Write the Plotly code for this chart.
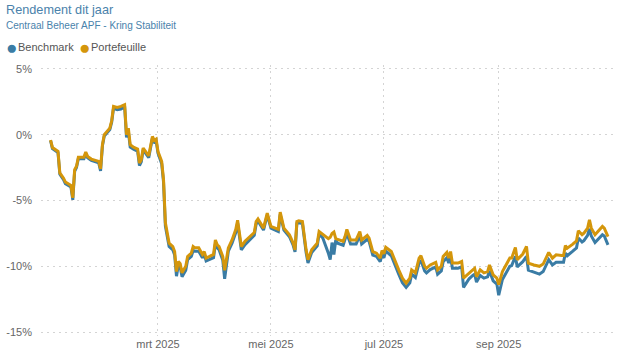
import plotly.graph_objects as go

# ---- data ----
dates = (
    ["2025-01-02", "2025-01-03", "2025-01-06", "2025-01-07", "2025-01-09", "2025-01-10", "2025-01-13",
     "2025-01-14", "2025-01-15", "2025-01-16", "2025-01-17", "2025-01-20", "2025-01-21", "2025-01-22",
     "2025-01-24", "2025-01-28", "2025-01-29", "2025-01-30", "2025-01-31"]
    + ["2025-02-03", "2025-02-04", "2025-02-05", "2025-02-07", "2025-02-09", "2025-02-11", "2025-02-12",
       "2025-02-13", "2025-02-14", "2025-02-16", "2025-02-18", "2025-02-19", "2025-02-20", "2025-02-21",
       "2025-02-23", "2025-02-24", "2025-02-26", "2025-02-27", "2025-02-28"]
    + ["2025-03-01", "2025-03-03", "2025-03-04", "2025-03-05", "2025-03-07", "2025-03-09", "2025-03-10",
       "2025-03-11", "2025-03-12", "2025-03-13", "2025-03-14", "2025-03-16", "2025-03-17", "2025-03-19",
       "2025-03-20", "2025-03-21", "2025-03-23", "2025-03-25", "2025-03-26", "2025-03-27", "2025-03-29",
       "2025-03-31"]
    + ["2025-04-01", "2025-04-02", "2025-04-03", "2025-04-05", "2025-04-06", "2025-04-08", "2025-04-10",
       "2025-04-12", "2025-04-13", "2025-04-15", "2025-04-17", "2025-04-20", "2025-04-22", "2025-04-23",
       "2025-04-24", "2025-04-27", "2025-04-29"]
    + ["2025-05-01", "2025-05-05", "2025-05-06", "2025-05-08", "2025-05-11", "2025-05-13", "2025-05-14",
       "2025-05-15", "2025-05-16", "2025-05-18", "2025-05-20", "2025-05-21", "2025-05-23", "2025-05-26",
       "2025-05-27", "2025-05-29"]
    + ["2025-06-01", "2025-06-02", "2025-06-03", "2025-06-04", "2025-06-05", "2025-06-06", "2025-06-09",
       "2025-06-10", "2025-06-11", "2025-06-13", "2025-06-16", "2025-06-18", "2025-06-19", "2025-06-22",
       "2025-06-23", "2025-06-25", "2025-06-27", "2025-06-29", "2025-06-30"]
    + ["2025-07-01", "2025-07-02", "2025-07-05", "2025-07-07", "2025-07-09", "2025-07-11", "2025-07-13",
       "2025-07-15", "2025-07-16", "2025-07-18", "2025-07-20", "2025-07-21", "2025-07-23", "2025-07-24",
       "2025-07-26", "2025-07-29", "2025-07-30"]
    + ["2025-08-01", "2025-08-02", "2025-08-04", "2025-08-05", "2025-08-06", "2025-08-07", "2025-08-10",
       "2025-08-12", "2025-08-13", "2025-08-16", "2025-08-18", "2025-08-19", "2025-08-20", "2025-08-22",
       "2025-08-24", "2025-08-26", "2025-08-27", "2025-08-29", "2025-08-31"]
    + ["2025-09-01", "2025-09-03", "2025-09-05", "2025-09-07", "2025-09-08", "2025-09-10", "2025-09-11",
       "2025-09-14", "2025-09-16", "2025-09-17", "2025-09-20", "2025-09-23", "2025-09-25", "2025-09-28",
       "2025-09-30"]
    + ["2025-10-02", "2025-10-05", "2025-10-06", "2025-10-07", "2025-10-08", "2025-10-11", "2025-10-13",
       "2025-10-14", "2025-10-16", "2025-10-17", "2025-10-19", "2025-10-20", "2025-10-21", "2025-10-23",
       "2025-10-25", "2025-10-27", "2025-10-28", "2025-10-30"]
)

portefeuille = (
    [-0.40, -0.97, -1.27, -2.90, -3.30, -3.60, -3.86, -4.80, -2.66, -2.40, -1.72, -1.72, -1.32, -1.65,
     -1.85, -2.03, -2.60, -0.76, 0.00]
    + [0.50, 1.06, 2.15, 2.08, 2.15, 2.28, 0.00, 0.50, -0.76, -0.96, -1.09, -2.15, -1.90, -1.01,
       -1.39, -1.60, -0.13, -0.43, -0.33]
    + [-1.27, -2.03, -3.40, -6.70, -8.24, -8.50, -8.88, -10.40, -9.64, -9.80, -10.50, -10.00, -9.26, -9.00,
       -8.50, -8.60, -8.60, -9.10, -8.88, -9.38, -9.26, -9.10]
    + [-8.00, -8.37, -8.50, -9.26, -10.30, -8.60, -8.00, -7.20, -6.50, -8.50, -8.10, -7.74, -7.43, -6.60,
       -6.40, -7.10, -5.96]
    + [-6.97, -7.20, -5.88, -7.10, -7.60, -8.24, -8.75, -6.60, -6.54, -6.60, -8.75, -9.50, -8.75, -8.24,
       -7.36, -7.60]
    + [-7.90, -7.80, -7.50, -7.40, -7.90, -7.95, -8.10, -7.74, -7.20, -8.00, -8.00, -7.36, -8.00, -7.66,
       -7.86, -8.88, -9.00, -9.38, -8.80]
    + [-9.05, -8.55, -8.88, -9.64, -10.27, -10.90, -11.28, -10.90, -10.27, -10.50, -9.38, -9.20, -10.00,
       -10.15, -9.90, -9.70, -10.27]
    + [-10.00, -9.26, -8.95, -9.38, -8.88, -9.76, -9.76, -9.64, -10.90, -10.50, -10.27, -10.15, -10.80,
       -10.27, -10.50, -10.40, -9.90, -10.65, -10.90]
    + [-11.40, -10.40, -9.90, -9.38, -9.38, -8.57, -9.50, -9.07, -8.50, -9.76, -9.90, -10.00, -9.83,
       -8.95, -9.38]
    + [-9.13, -9.18, -9.18, -8.42, -8.62, -8.32, -8.07, -7.30, -7.60, -7.48, -7.10, -6.47, -7.10, -7.60,
       -7.30, -6.97, -7.10, -7.74]
)

benchmark = (
    [-0.45, -1.05, -1.35, -3.00, -3.42, -3.72, -3.98, -4.95, -2.78, -2.50, -1.82, -1.82, -1.42, -1.76,
     -1.96, -2.14, -2.75, -0.86, -0.10]
    + [0.40, 0.95, 2.00, 1.90, 1.95, 2.15, -0.20, 0.25, -0.95, -1.12, -1.25, -2.35, -2.05, -1.15,
       -1.52, -1.75, -0.25, -0.55, -0.45]
    + [-1.40, -2.20, -3.60, -6.95, -8.50, -8.75, -9.15, -10.75, -9.90, -10.05, -10.80, -10.30, -9.50, -9.25,
       -8.80, -8.85, -8.85, -9.35, -9.10, -9.60, -9.50, -9.35]
    + [-8.30, -8.60, -8.75, -9.55, -10.95, -8.85, -8.25, -7.45, -6.70, -8.75, -8.35, -7.95, -7.65, -6.80,
       -6.55, -7.25, -6.10]
    + [-7.10, -7.35, -6.05, -7.25, -7.75, -8.40, -8.90, -6.75, -6.70, -6.75, -8.95, -9.75, -8.95, -8.45,
       -7.55, -7.85]
    + [-9.00, -9.50, -8.20, -9.10, -8.00, -8.25, -8.40, -8.00, -7.50, -8.30, -8.30, -7.65, -8.30, -7.95,
       -8.10, -9.15, -9.25, -9.65, -9.10]
    + [-9.35, -8.85, -9.20, -9.95, -10.60, -11.25, -11.60, -11.25, -10.60, -10.85, -9.75, -9.55, -10.35,
       -10.50, -10.25, -10.05, -10.60]
    + [-10.35, -9.65, -9.35, -9.75, -9.30, -10.15, -10.15, -10.05, -11.60, -10.95, -10.70, -10.60, -11.20,
       -10.70, -10.90, -10.80, -10.35, -11.10, -11.35]
    + [-12.20, -11.00, -10.50, -10.00, -9.95, -9.25, -10.05, -9.65, -9.25, -10.30, -10.45, -10.60, -10.40,
       -9.50, -9.90]
    + [-9.70, -9.70, -9.70, -9.00, -9.20, -8.85, -8.60, -7.85, -8.15, -8.05, -7.65, -7.15, -7.70, -8.20,
       -7.90, -7.60, -7.70, -8.37]
)

x_tick_vals = ["2025-03-01", "2025-05-01", "2025-07-01", "2025-09-01"]
x_tick_text = ["mrt 2025", "mei 2025", "jul 2025", "sep 2025"]
y_tick_vals = [-15, -10, -5, 0, 5]
y_tick_text = ["-15%", "-10%", "-5%", "0%", "5%"]

title_text = "Rendement dit jaar"
subtitle_text = "Centraal Beheer APF - Kring Stabiliteit"
series_names = ["Benchmark", "Portefeuille"]

# ---- style ----
BLUE = "#3a7ca5"
GOLD = "#d4960b"
TITLE_COLOR = "#4a82ab"
TEXT_GREY = "#666666"
GRID = "#d4d4d4"
FONT = "Liberation Sans, Arial, sans-serif"

W, H = 636, 362
# plot area in page pixels: x 41..615, y 65..336
P_L, P_R, P_T, P_B = 41, 615, 65, 336
ML, MR, MT, MB = P_L, W - P_R, P_T, H - P_B
PW, PH = P_R - P_L, P_B - P_T


def px_x(px):
    return (px - P_L) / PW


def px_y(py):
    return (P_B - py) / PH


fig = go.Figure()
fig.add_trace(go.Scatter(x=dates, y=benchmark, name=series_names[0], mode="lines",
                         line=dict(color=BLUE, width=3), showlegend=False))
fig.add_trace(go.Scatter(x=dates, y=portefeuille, name=series_names[1], mode="lines",
                         line=dict(color=GOLD, width=3), showlegend=False))


def ann(text, x, y, size, color, xanchor="left"):
    return dict(text=text, x=px_x(x), y=px_y(y), xref="paper", yref="paper",
                xanchor=xanchor, yanchor="middle", showarrow=False, borderpad=0, borderwidth=0,
                font=dict(family=FONT, size=size, color=color))


annotations = [
    ann(title_text, 6, 10, 12.7, TITLE_COLOR),
    ann(subtitle_text, 6, 25, 10, TITLE_COLOR),
    ann("●", 11.5, 47, 19, BLUE, "center"),
    ann(series_names[0], 18, 47, 11, "#555555"),
    ann("●", 84, 47, 19, GOLD, "center"),
    ann(series_names[1], 90.5, 47, 11, "#555555"),
]

fig.update_layout(
    width=W, height=H,
    margin=dict(l=ML, r=MR, t=MT, b=MB, pad=0),
    paper_bgcolor="white", plot_bgcolor="white",
    font=dict(family=FONT, size=11, color=TEXT_GREY),
    showlegend=False,
    annotations=annotations,
    xaxis=dict(
        type="date",
        range=["2024-12-27 20:00", "2025-11-02 19:00"],
        tickvals=x_tick_vals, ticktext=x_tick_text,
        showgrid=True, gridcolor=GRID, griddash="2px,4px", gridwidth=1,
        zeroline=False, showline=False, ticks="",
        tickfont=dict(family=FONT, size=11, color=TEXT_GREY),
        automargin=False,
    ),
    yaxis=dict(
        range=[-15.3, 5.3],
        tickvals=y_tick_vals, ticktext=y_tick_text,
        showgrid=True, gridcolor=GRID, griddash="2px,4px", gridwidth=1,
        zeroline=False, showline=False, ticks="",
        ticklabelstandoff=8,
        tickfont=dict(family=FONT, size=11, color=TEXT_GREY),
        automargin=False,
    ),
)

# remove the default 8px page margin so the figure sits at the window's top-left corner
fig.write_html("out.html",
               config={"displayModeBar": False},
               post_script="document.body.style.margin='0';document.body.style.overflow='hidden';")
